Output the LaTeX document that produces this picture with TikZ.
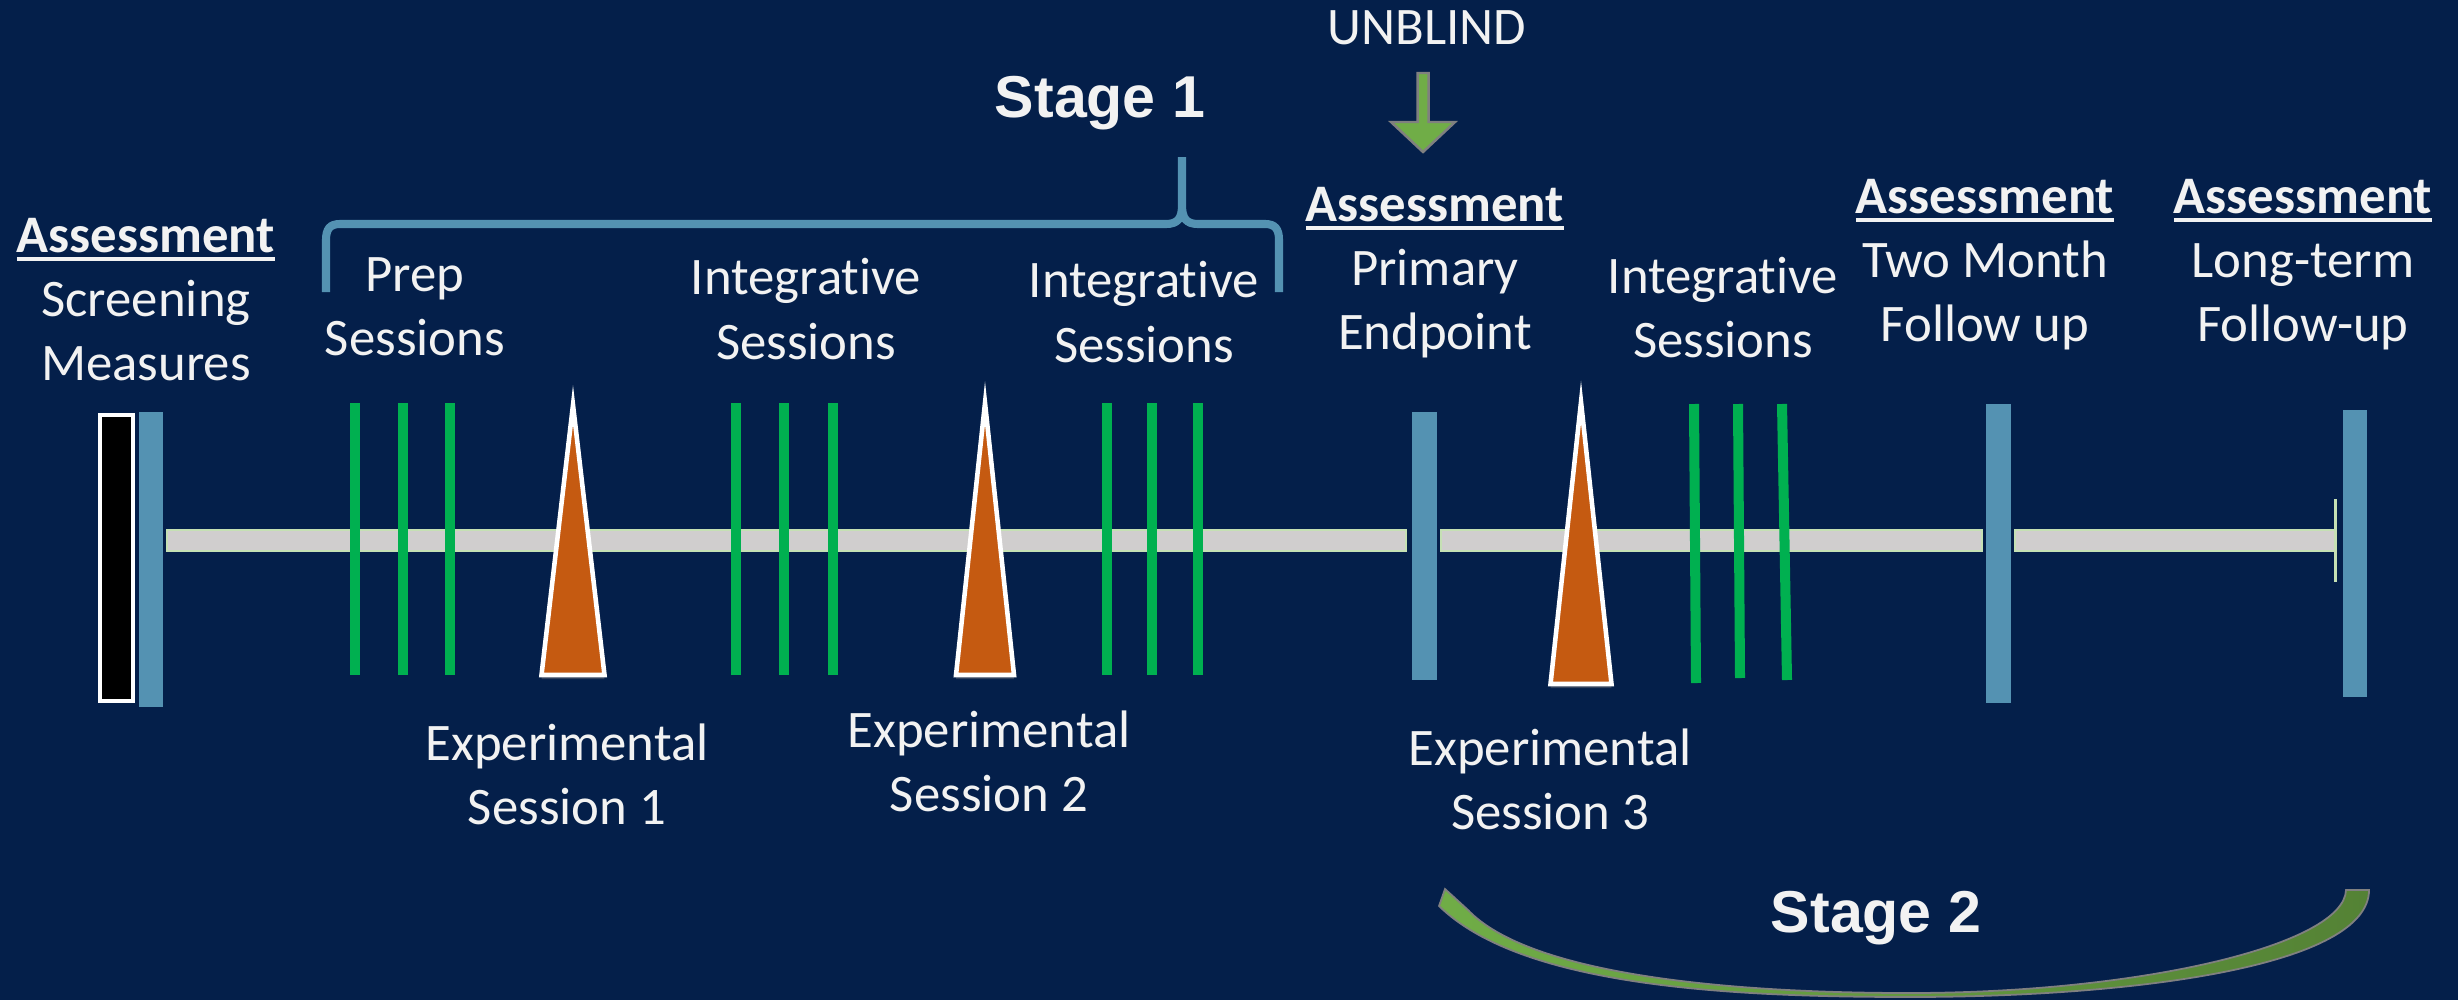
\documentclass[tikz,border=0pt]{standalone}
\usepackage{fontspec}
\setmainfont{Carlito}[Ligatures=NoCommon]
\newfontfamily\stagefont{Liberation Sans}
\usepackage{tikz}
\usetikzlibrary{shadows,positioning}

\definecolor{navy}{RGB}{4,31,74}
\definecolor{barblue}{RGB}{84,146,178}
\definecolor{sessgreen}{RGB}{0,176,80}
\definecolor{trigorange}{RGB}{197,90,17}
\definecolor{linegray}{RGB}{208,206,206}
\definecolor{lineedge}{RGB}{197,224,180}
\definecolor{arrgreen}{RGB}{112,173,71}
\definecolor{arrgreendk}{RGB}{84,130,53}
\definecolor{txt}{RGB}{242,242,242}

% bold heading with a solid rule under it
\newcommand{\assesshead}{\vtop{\hbox{\textbf{Assessment}}\kern1.1pt\hrule height 1.1pt}}

\begin{document}
\begin{tikzpicture}[x=0.01cm, y=-0.01cm,
lbl/.style = {align=center, anchor=north, text=txt, inner sep=0pt, font=\fontsize{15}{18.2}\selectfont},
stage/.style = {anchor=base, text=txt, inner sep=0pt, font=\stagefont\bfseries\fontsize{16.8}{20}\selectfont},
assess/.style = {fill=barblue},
sess/.style = {draw=sessgreen, line width=2.85pt},
expt/.style = {fill=trigorange, draw=white, line width=1.3pt, line join=miter,
               drop shadow={shadow xshift=0pt, shadow yshift=-1.2pt, opacity=0.35}},
tline/.style = {fill=linegray, draw=lineedge, line width=0.6pt},
brace1/.style = {draw=barblue, line width=2.3pt},
stagearc/.style = {left color=arrgreen, middle color=gray!85, right color=arrgreendk, draw=gray, line width=0.5pt},
unblind/.style = {fill=arrgreen, draw=gray, line width=0.7pt},
                    ]
    \fill[navy] (0,0) rectangle (2458,1000);
    \useasboundingbox (0,0) rectangle (2458,1000);

    % timeline
    \draw[tline] (167,530) rectangle (1406,551);
    \draw[tline] (1441,530) rectangle (1982,551);
    \draw[tline] (2015,530) rectangle (2335,551);
    \draw[lineedge, line width=0.85pt] (2335,499) -- (2335,582);

    % screening + assessment bars
    \draw[fill=black, draw=white, line width=1.1pt] (100,415) rectangle (133,701);
    \fill[assess] (139,412) rectangle (163,707);
    \fill[assess] (1412,412) rectangle (1437,680);
    \fill[assess] (1986,404) rectangle (2011,703);
    \fill[assess] (2343,410) rectangle (2367,697);

    % sessions
    \draw[sess] (355,403) -- (355,675);
    \draw[sess] (403,403) -- (403,675);
    \draw[sess] (450,403) -- (450,675);
    \draw[sess] (736,403) -- (736,675);
    \draw[sess] (784,403) -- (784,675);
    \draw[sess] (833,403) -- (833,675);
    \draw[sess] (1107,403) -- (1107,675);
    \draw[sess] (1152,403) -- (1152,675);
    \draw[sess] (1198,403) -- (1198,675);
    \draw[sess] (1694,404) -- (1696,683);
    \draw[sess] (1738,404) -- (1740,678);
    \draw[sess] (1782,404) -- (1787,680);

    % experimental sessions
    \draw[expt] (573,405) -- (604.5,675) -- (541.5,675) -- cycle;
    \draw[expt] (985,403) -- (1014,675) -- (956,675) -- cycle;
    \draw[expt] (1581,402) -- (1611.5,684) -- (1550.5,684) -- cycle;

    % labels
    \node[lbl] (screen) at (146,218) {\assesshead\\Screening\\Measures};
    \node[lbl] (prep) at (415,257) {Prep\\Sessions};
    \node[lbl] (integ1) at (806,258) {Integrative\\Sessions};
    \node[lbl] (integ2) at (1144,261) {Integrative\\Sessions};
    \node[lbl] (primary) at (1435,187) {\assesshead\\Primary\\Endpoint};
    \node[lbl] (integ3) at (1723,256) {Integrative\\Sessions};
    \node[lbl] (twomonth) at (1985,179) {\assesshead\\Two Month\\Follow up};
    \node[lbl] (longterm) at (2303,179) {\assesshead\\Long-term\\Follow-up};
    \node[lbl] (exp1) at (567,723) {Experimental\\Session 1};
    \node[lbl] (exp2) at (989,710) {Experimental\\Session 2};
    \node[lbl] (exp3) at (1550,728) {Experimental\\Session 3};
    \node[lbl] (unblindtxt) at (1427,10) {UNBLIND};

    \node[stage] (stage1) at (1100,117) {Stage 1};
    \node[stage] (stage2) at (1876,932) {Stage 2};

    % stage 1 brace
    \draw[brace1] (326,292) -- (326,240) .. controls (326,229) and (330,224) .. (340,224)
        -- (1166,224) .. controls (1178,224) and (1182,218) .. (1182,205) -- (1182,157)
        (1182,205) .. controls (1182,218) and (1186,224) .. (1198,224)
        -- (1265,224) .. controls (1275,224) and (1279,229) .. (1279,240) -- (1279,292);

    % unblind arrow
    \draw[unblind] (1417.5,73) -- (1428.5,73) -- (1428.5,122) -- (1455,122) -- (1423,152)
        -- (1391,122) -- (1417.5,122) -- cycle;

    % stage 2 arc
    \path[stagearc] (1445,889) -- (1439,906) .. controls (1520,985) and (1720,997) .. (1909,997)
        .. controls (2140,997) and (2369,965) .. (2369,890) -- (2346,890)
        .. controls (2344,945) and (2140,993) .. (1909,993)
        .. controls (1730,993) and (1530,975) .. (1468,910) -- cycle;
\end{tikzpicture}
\end{document}
